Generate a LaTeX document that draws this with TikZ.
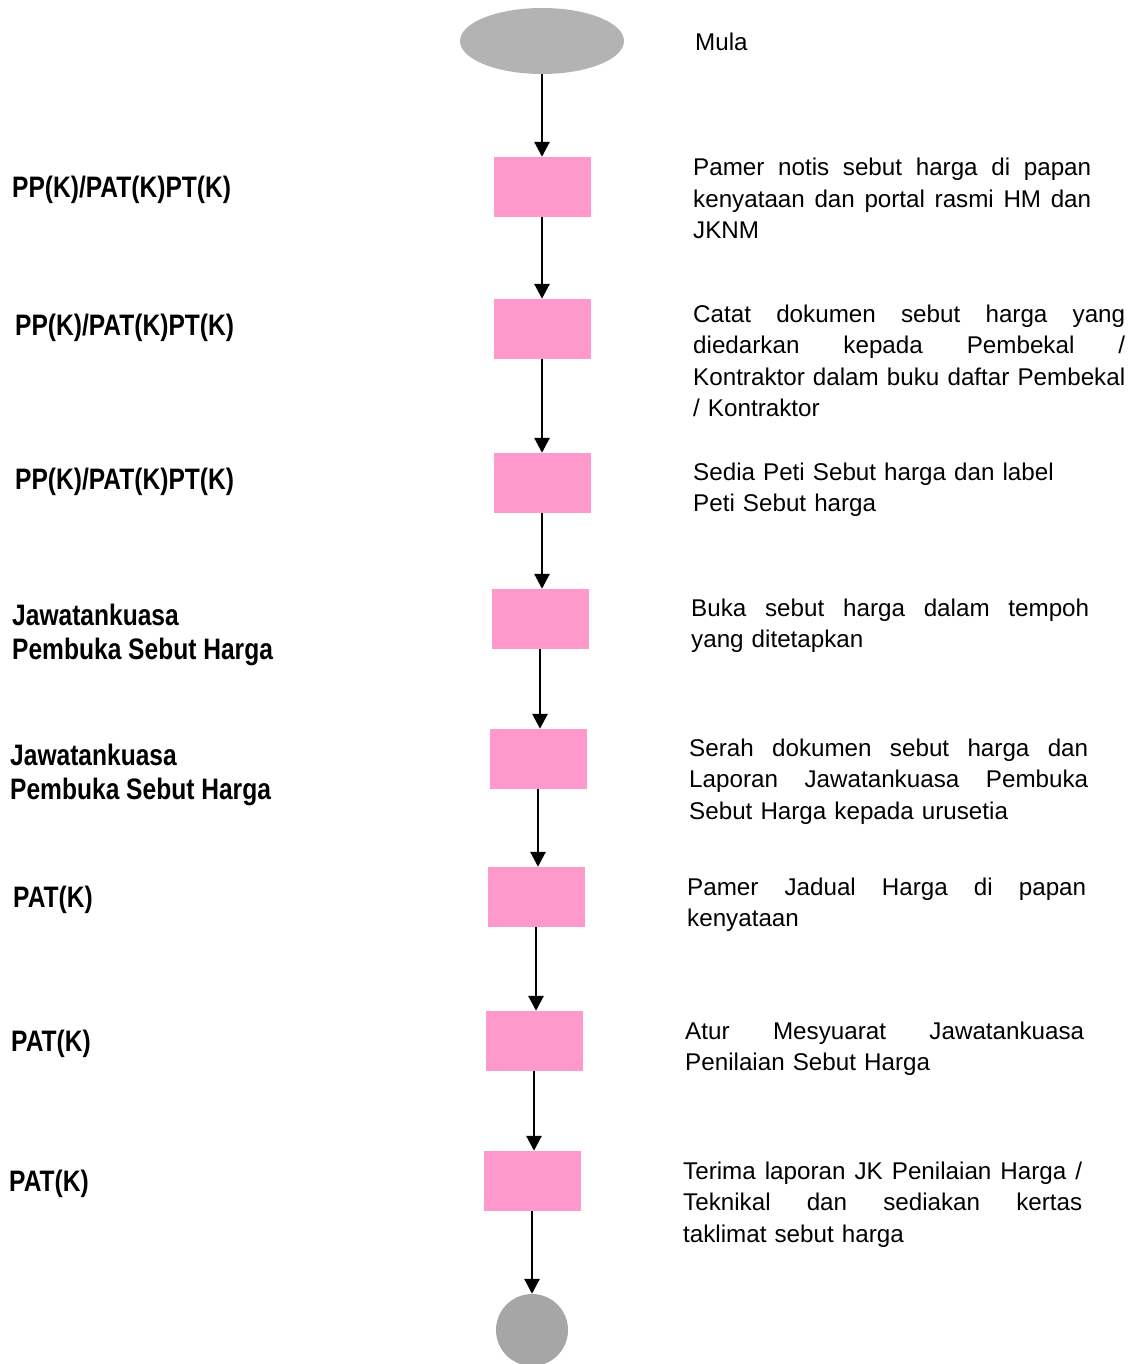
\documentclass[tikz,border=0pt]{standalone}
\usepackage{fontspec}
\setmainfont{Liberation Sans}
\newfontfamily\narrowbf[FakeStretch=0.83]{Liberation Sans Bold}
\usetikzlibrary{arrows.meta,shapes.geometric}
\definecolor{pinkbox}{HTML}{FF99CC}
\definecolor{greyA}{HTML}{B3B3B3}
\definecolor{greyB}{HTML}{A6A6A6}
\newcommand{\jl}[2]{\makebox[#1pt][s]{\spaceskip=0pt\xspaceskip=0pt #2}}
\tikzset{
  stepbox/.style={fill=pinkbox, draw=none, minimum width=97pt, minimum height=60pt, inner sep=0pt},
  flow/.style={line width=2.8pt, -{Triangle[width=15pt,length=15pt]}},
  role/.style={anchor=base west, inner sep=0pt, align=left,
    font=\narrowbf\fontsize{29.6pt}{34pt}\selectfont},
  desc/.style={anchor=base west, inner sep=0pt, text width=440pt, align=left,
    font=\fontsize{24.2pt}{31.5pt}\selectfont},
}
\begin{document}
\begin{tikzpicture}[x=1pt,y=-1pt]
\useasboundingbox (0,0) rectangle (1136,1364);
% start / end
\node[ellipse, fill=greyA, minimum width=164pt, minimum height=66pt, inner sep=0pt] (start) at (542,41) {};
\node[circle, fill=greyB, minimum size=72pt, inner sep=0pt] (end) at (532,1330) {};
% boxes
\node[stepbox] (b1) at (542,187) {};
\node[stepbox] (b2) at (542,329) {};
\node[stepbox] (b3) at (542,483) {};
\node[stepbox] (b4) at (540,619) {};
\node[stepbox] (b5) at (538,759) {};
\node[stepbox] (b6) at (536,897) {};
\node[stepbox] (b7) at (534,1041) {};
\node[stepbox] (b8) at (532,1181) {};
% arrows
\draw[flow] (start.south) -- (b1.north);
\draw[flow] (b1.south) -- (b1.south |- b2.north);
\draw[flow] (b2.south) -- (b2.south |- b3.north);
\draw[flow] (b3.south) -- (b3.south |- b4.north);
\draw[flow] (b4.south) -- (b4.south |- b5.north);
\draw[flow] (b5.south) -- (b5.south |- b6.north);
\draw[flow] (b6.south) -- (b6.south |- b7.north);
\draw[flow] (b7.south) -- (b7.south |- b8.north);
\draw[flow] (b8.south) -- (end.north);
% left labels
\node[role] (r1) at (12,197.5) {PP(K)/PAT(K)PT(K)};
\node[role] (r2) at (15,335.5) {PP(K)/PAT(K)PT(K)};
\node[role] (r3) at (15,489.5) {PP(K)/PAT(K)PT(K)};
\node[role] (r4) at (12,659.5) {Jawatankuasa\\Pembuka Sebut Harga};
\node[role] (r5) at (10,799.5) {Jawatankuasa\\Pembuka Sebut Harga};
\node[role] (r6) at (13,907.5) {PAT(K)};
\node[role] (r7) at (11,1051.5) {PAT(K)};
\node[role] (r8) at (9,1191.5) {PAT(K)};
% right descriptions
\node[desc] (d0) at (695,51) {Mula};
\node[desc] (d1) at (693,176) {\jl{398}{Pamer notis sebut harga di papan}\\\jl{398}{kenyataan dan portal rasmi HM dan}\\JKNM};
\node[desc] (d2) at (693,322) {\jl{432}{Catat dokumen sebut harga yang}\\\jl{432}{diedarkan kepada Pembekal /}\\\jl{432}{Kontraktor dalam buku daftar Pembekal}\\/ Kontraktor};
\node[desc] (d3) at (693,480) {Sedia Peti Sebut harga dan label\\Peti Sebut harga};
\node[desc] (d4) at (691,616) {\jl{398}{Buka sebut harga dalam tempoh}\\yang ditetapkan};
\node[desc] (d5) at (689,756) {\jl{399}{Serah dokumen sebut harga dan}\\\jl{399}{Laporan Jawatankuasa Pembuka}\\Sebut Harga kepada urusetia};
\node[desc] (d6) at (687,895) {\jl{399}{Pamer Jadual Harga di papan}\\kenyataan};
\node[desc] (d7) at (685,1039) {\jl{399}{Atur Mesyuarat Jawatankuasa}\\Penilaian Sebut Harga};
\node[desc] (d8) at (683,1179) {\jl{399}{Terima laporan JK Penilaian Harga /}\\\jl{399}{Teknikal dan sediakan kertas}\\taklimat sebut harga};
\end{tikzpicture}
\end{document}
